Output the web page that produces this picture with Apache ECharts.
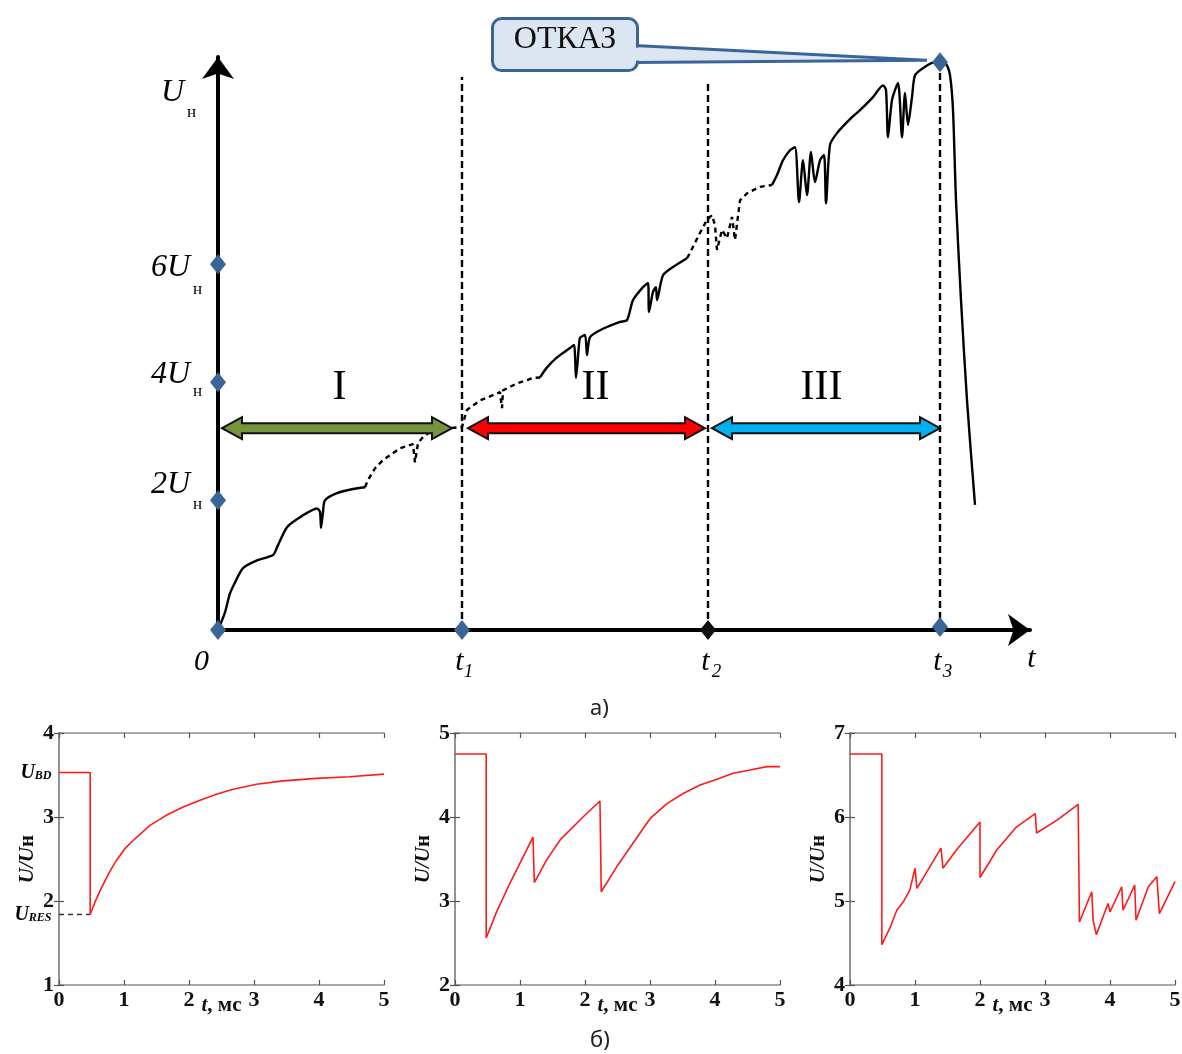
<!DOCTYPE html>
<html>
<head>
<meta charset="utf-8">
<script src="https://cdn.jsdelivr.net/npm/echarts@6/dist/echarts.min.js"></script>
<style>
  html, body { margin: 0; padding: 0; background: #fff; }
  #main { width: 1182px; height: 1054px; }
</style>
</head>
<body>
<div id="main"></div>
<script>
// ---- а) schematic: t in sketch units (t1 = 2.44, t2 = 4.90, t3 = 7.22), voltage in Uн
var stage1Solid = [[0,-0.2],[0.07,0.10],[0.12,0.42],[0.18,0.64],[0.25,0.85],[0.39,0.98],[0.55,1.07],[0.59,1.20],[0.69,1.54],[0.82,1.71],[0.99,1.86],[1.02,1.80],[1.03,1.53],[1.05,1.80],[1.07,2.00],[1.19,2.12],[1.35,2.19],[1.47,2.22]];
var stage1Dashed = [[1.47,2.22],[1.50,2.34],[1.57,2.54],[1.65,2.68],[1.82,2.88],[1.95,2.95],[1.97,2.64],[2.00,2.97],[2.05,3.07],[2.15,3.19],[2.32,3.22],[2.44,3.24],[2.46,3.36],[2.49,3.53],[2.62,3.69],[2.82,3.83],[2.84,3.56],[2.85,3.86],[2.99,3.98],[3.15,4.07],[3.22,4.08]];
var stage2Solid = [[3.22,4.08],[3.29,4.25],[3.39,4.42],[3.52,4.58],[3.56,4.63],[3.58,4.07],[3.61,4.63],[3.62,4.75],[3.67,4.80],[3.69,4.46],[3.72,4.76],[3.82,4.88],[4.02,5.02],[4.09,5.05],[4.15,5.39],[4.25,5.61],[4.30,5.68],[4.31,5.19],[4.35,5.53],[4.38,5.61],[4.39,5.39],[4.45,5.81],[4.55,5.95],[4.69,6.10]];
var stage2Dashed = [[4.69,6.10],[4.72,6.19],[4.82,6.53],[4.89,6.75],[4.94,6.83],[4.97,6.66],[4.99,6.24],[5.04,6.58],[5.09,6.44],[5.14,6.80],[5.17,6.41],[5.22,7.08],[5.29,7.20],[5.42,7.31],[5.54,7.34]];
var stage3Solid = [[5.54,7.34],[5.59,7.51],[5.65,7.76],[5.72,7.93],[5.77,7.98],[5.81,7.05],[5.85,7.76],[5.89,7.17],[5.93,7.90],[5.97,7.39],[6.02,7.76],[6.06,7.85],[6.08,7.03],[6.12,8.02],[6.19,8.22],[6.34,8.49],[6.42,8.61],[6.55,8.83],[6.65,9.03],[6.68,8.95],[6.70,8.15],[6.74,8.78],[6.80,9.07],[6.84,8.15],[6.87,8.90],[6.90,8.36],[6.94,8.83],[6.97,9.20],[7.05,9.32],[7.14,9.41],[7.22,9.42],[7.28,9.39],[7.32,9.20],[7.35,8.61],[7.38,7.08],[7.43,5.39],[7.49,3.69],[7.57,1.92]];

var tMarks = [2.44, 4.90, 7.22];          // t1, t2, t3
var tMarkTops = [9.17, 9.07, 9.42];       // where the dashed verticals start
var tMarkSubs = ['1', '2', '3'];
var uMarks = [2, 4, 6];
var uMarkText = ['2U', '4U', '6U'];
var failPoint = [7.22, 9.42];
var failBox = [3.47, 9.72];
var stageArrows = [[0.04, 2.34, 3.22], [2.50, 4.87, 3.22], [4.94, 7.22, 3.22]];
var stageColors = ['#77933C', '#FF0000', '#00B0F0'];
var stageNames = ['I', 'II', 'III'];
var stageNameX = [1.22, 3.78, 6.04];
var stageNameU = 3.90;

// ---- б) measured U/Uн vs t, ms
var meas1 = [[0,3.53],[0.48,3.53],[0.48,1.84],[0.55,1.98],[0.63,2.12],[0.78,2.35],[0.88,2.48],[1.01,2.62],[1.14,2.72],[1.40,2.90],[1.65,3.02],[1.91,3.12],[2.17,3.20],[2.42,3.27],[2.68,3.33],[3.04,3.39],[3.45,3.43],[3.96,3.46],[4.47,3.48],[5.0,3.51]];
var meas2 = [[0,4.75],[0.48,4.75],[0.48,2.56],[0.64,2.87],[0.85,3.22],[1.00,3.45],[1.20,3.76],[1.22,3.22],[1.41,3.49],[1.62,3.73],[1.97,4.00],[2.23,4.19],[2.25,3.11],[2.49,3.41],[2.74,3.69],[3.00,3.98],[3.26,4.16],[3.51,4.28],[3.77,4.38],[4.03,4.45],[4.28,4.52],[4.54,4.56],[4.80,4.60],[5.0,4.60]];
var meas3 = [[0,6.75],[0.49,6.75],[0.49,4.48],[0.62,4.69],[0.72,4.89],[0.82,4.99],[0.92,5.13],[1.00,5.39],[1.03,5.15],[1.23,5.41],[1.40,5.63],[1.43,5.39],[1.64,5.61],[2.00,5.94],[2.00,5.28],[2.26,5.61],[2.56,5.88],[2.85,6.04],[2.87,5.81],[3.18,5.96],[3.51,6.15],[3.53,4.75],[3.72,5.11],[3.74,4.77],[3.79,4.60],[3.97,4.97],[4.00,4.87],[4.18,5.17],[4.20,4.89],[4.38,5.19],[4.40,4.77],[4.59,5.17],[4.72,5.29],[4.76,4.85],[5.0,5.23]];
var uBD = 3.53;
var uRES = 1.84;
var tBreak = 0.48;
var yRanges = [[1, 4], [2, 5], [4, 7]];

var serif = '"Liberation Serif", "DejaVu Serif", serif';
var chart = echarts.init(document.getElementById('main'));

// text placed at a data point, shifted by a few pixels
function textAt(x, y, text, dx, dy, style) {
    var lab = {
        show: true, formatter: text, position: [dx, dy],
        align: 'center', verticalAlign: 'middle',
        fontFamily: serif, color: '#000', opacity: 1
    };
    for (var k in style) lab[k] = style[k];
    return {value: [x, y], label: lab};
}
var bigItalic = {fontSize: 32, fontStyle: 'italic'};
var subUp = {fontSize: 17};
var subItalic = {fontSize: 19, fontStyle: 'italic'};

var topTexts = [];
var uMainDy = [-15, -7, 4], uSubDy = [5, 10, 26];
uMarks.forEach(function (u, i) {
    topTexts.push(textAt(0, u, uMarkText[i], -47, uMainDy[i], bigItalic));
    topTexts.push(textAt(0, u, 'н', -20, uSubDy[i], subUp));
});
topTexts.push(textAt(0, 8.90, 'U', -45, 0, bigItalic));
topTexts.push(textAt(0, 8.90, 'н', -26, 20, subUp));
topTexts.push(textAt(0, -0.2, '0', -16, 33, {fontSize: 30, fontStyle: 'italic'}));
var subDx = [7, 9, 8];
tMarks.forEach(function (t, i) {
    topTexts.push(textAt(t, -0.2, 't', -2, 33, {fontSize: 30, fontStyle: 'italic'}));
    topTexts.push(textAt(t, -0.2, tMarkSubs[i], subDx[i], 42, subItalic));
});
topTexts.push(textAt(8.12, -0.2, 't', 2, 30, {fontSize: 30, fontStyle: 'italic'}));
stageNames.forEach(function (s, i) {
    topTexts.push(textAt(stageNameX[i], stageNameU, s, 0, 0, {fontSize: 42}));
});

function lineSeries(data, dashed, width) {
    return {
        type: 'line', xAxisIndex: 0, yAxisIndex: 0, data: data,
        symbol: 'none', clip: false, silent: true, z: 3, smooth: dashed ? 0 : 0.25,
        lineStyle: {color: '#000', width: width || 2.4, type: dashed ? [5, 4] : 'solid'}
    };
}

var series = [
    lineSeries(stage1Solid, false),
    lineSeries(stage1Dashed, true),
    lineSeries(stage2Solid, false),
    lineSeries(stage2Dashed, true),
    lineSeries(stage3Solid, false)
];
tMarks.forEach(function (t, i) {
    var s = lineSeries([[t, -0.2], [t, tMarkTops[i]]], true, 2.4);
    s.lineStyle.type = [7, 4];
    s.z = 2;
    series.push(s);
});
series.push({
    type: 'custom', xAxisIndex: 0, yAxisIndex: 0, data: stageArrows, z: 4, silent: true,
    encode: {x: [0, 1], y: 2},
    renderItem: function (params, api) {
        var a = api.coord([api.value(0), api.value(2)]);
        var b = api.coord([api.value(1), api.value(2)]);
        var y = a[1], L = 20, H = 11, h = 5;
        var pts = [[a[0], y], [a[0] + L, y - H], [a[0] + L, y - h], [b[0] - L, y - h], [b[0] - L, y - H],
                   [b[0], y], [b[0] - L, y + H], [b[0] - L, y + h], [a[0] + L, y + h], [a[0] + L, y + H]];
        return {type: 'polygon', shape: {points: pts},
                style: {fill: stageColors[params.dataIndex], stroke: '#111', lineWidth: 2}};
    }
});
series.push({
    type: 'custom', xAxisIndex: 0, yAxisIndex: 0, data: [[failPoint[0], failPoint[1], failBox[0], failBox[1]]],
    z: 5, silent: true, clip: false, encode: {x: 0, y: 1},
    renderItem: function (params, api) {
        var tip = api.coord([api.value(0), api.value(1)]);
        var c = api.coord([api.value(2), api.value(3)]);
        var w = 145, h = 52, bx = c[0] - w / 2, by = c[1] - h / 2;
        var fill = '#DCE6F2', edge = '#3A6598';
        return {type: 'group', children: [
            {type: 'polygon', shape: {points: [[bx + w - 3, c[1] + 1], [tip[0] - 13, tip[1] - 2], [bx + w - 3, c[1] + 18]]},
             style: {fill: fill, stroke: edge, lineWidth: 3}},
            {type: 'rect', shape: {x: bx, y: by, width: w, height: h, r: 9},
             style: {fill: fill, stroke: edge, lineWidth: 3}},
            {type: 'rect', shape: {x: bx + w - 4, y: c[1] + 3, width: 7, height: 13}, style: {fill: fill}},
            {type: 'text', style: {text: 'ОТКАЗ', x: c[0], y: c[1] - 5, align: 'center', verticalAlign: 'middle',
             font: '32px ' + serif, fill: '#111'}}
        ]};
    }
});
var blueMarks = [[0, -0.2], [0, 2], [0, 4], [0, 6], [tMarks[0], -0.2], [tMarks[2], -0.15], failPoint];
series.push({
    type: 'scatter', xAxisIndex: 0, yAxisIndex: 0, data: blueMarks, symbol: 'diamond',
    symbolSize: [16, 20], itemStyle: {color: '#3A6596', opacity: 1}, z: 6, silent: true, clip: false
});
series.push({
    type: 'scatter', xAxisIndex: 0, yAxisIndex: 0, data: [[tMarks[1], -0.2]], symbol: 'diamond',
    symbolSize: [16, 20], itemStyle: {color: '#111', opacity: 1}, z: 6, silent: true
});
series.push({
    type: 'scatter', xAxisIndex: 0, yAxisIndex: 0, data: topTexts, symbolSize: 1,
    itemStyle: {color: 'rgba(0,0,0,0)', opacity: 1}, z: 7, silent: true, clip: false
});

// bottom panels
[meas1, meas2, meas3].forEach(function (d, i) {
    series.push({
        type: 'line', xAxisIndex: i + 1, yAxisIndex: i + 1, data: d, symbol: 'none', silent: true,
        lineStyle: {color: '#FF1A1A', width: 1.6}, z: 3
    });
});
series.push({
    type: 'line', xAxisIndex: 1, yAxisIndex: 1, data: [[0, uRES], [tBreak, uRES]], symbol: 'none', silent: true,
    lineStyle: {color: '#333', width: 1.6, type: [5, 4]}, z: 2
});
series.push({
    type: 'scatter', xAxisIndex: 1, yAxisIndex: 1, symbolSize: 1, itemStyle: {color: 'rgba(0,0,0,0)', opacity: 1},
    silent: true, clip: false,
    data: [
        {value: [0, uBD], label: {formatter: '{u|U}{s|BD}'}},
        {value: [0, uRES], label: {formatter: '{u|U}{s|RES}'}}
    ],
    label: {
        show: true, position: 'left', distance: 7, color: '#000', opacity: 1,
        rich: {
            u: {fontFamily: serif, fontSize: 20, fontWeight: 'bold', fontStyle: 'italic'},
            s: {fontFamily: serif, fontSize: 12, fontWeight: 'bold', fontStyle: 'italic', padding: [7, 0, 0, 0]}
        }
    }
});

var grids = [{left: 218, top: 57, width: 812, height: 573, outerBoundsMode: 'none'}];
var panelLeft = [59, 455, 850];
panelLeft.forEach(function (l) {
    grids.push({left: l, top: 733, width: 325, height: 252, outerBoundsMode: 'none'});
});

var frameLine = {color: '#8c8c8c', width: 1.5};
var tickIn = {inside: true, length: 5, lineStyle: {color: '#555', width: 1.2}};

var xAxes = [{
    type: 'value', gridIndex: 0, min: 0, max: 8.12,
    axisLine: {onZero: false, symbol: ['none', 'arrow'], symbolSize: [24, 22], lineStyle: {color: '#000', width: 4}},
    axisTick: {show: false}, axisLabel: {show: false}, splitLine: {show: false}
}];
var yAxes = [{
    type: 'value', gridIndex: 0, min: -0.2, max: 9.51,
    axisLine: {onZero: false, symbol: ['none', 'arrow'], symbolSize: [24, 22], lineStyle: {color: '#000', width: 4}},
    axisTick: {show: false}, axisLabel: {show: false}, splitLine: {show: false}
}];
[1, 2, 3].forEach(function (g) {
    xAxes.push({
        type: 'value', gridIndex: g, min: 0, max: 5, interval: 1,
        axisLine: {lineStyle: frameLine}, axisTick: tickIn, splitLine: {show: false},
        axisLabel: {fontFamily: serif, fontSize: 22, fontWeight: 'bold', color: '#111', margin: 4},
        name: '{a|t}{b|, мс}', nameLocation: 'middle', nameGap: 10, nameMoveOverlap: false,
        nameTextStyle: {rich: {
            a: {fontFamily: serif, fontSize: 21, fontWeight: 'bold', fontStyle: 'italic', color: '#111'},
            b: {fontFamily: serif, fontSize: 21, fontWeight: 'bold', color: '#111'}
        }}
    });
    yAxes.push({
        type: 'value', gridIndex: g, min: yRanges[g - 1][0], max: yRanges[g - 1][1], interval: 1,
        axisLine: {lineStyle: frameLine}, axisTick: tickIn, splitLine: {show: false},
        axisLabel: {fontFamily: serif, fontSize: 22, fontWeight: 'bold', color: '#111', margin: 5},
        name: '{a|U/U}{b|н}', nameLocation: 'middle', nameGap: 21, nameMoveOverlap: false,
        nameTextStyle: {rich: {
            a: {fontFamily: serif, fontSize: 21, fontWeight: 'bold', fontStyle: 'italic', color: '#111'},
            b: {fontFamily: serif, fontSize: 21, fontWeight: 'bold', color: '#111'}
        }}
    });
});
[1, 2, 3].forEach(function (g) {
    xAxes.push({type: 'value', gridIndex: g, position: 'top', min: 0, max: 5, interval: 1,
        axisLine: {lineStyle: frameLine}, axisTick: tickIn, axisLabel: {show: false}, splitLine: {show: false}});
    yAxes.push({type: 'value', gridIndex: g, position: 'right', min: yRanges[g - 1][0], max: yRanges[g - 1][1], interval: 1,
        axisLine: {lineStyle: frameLine}, axisTick: tickIn, axisLabel: {show: false}, splitLine: {show: false}});
});

chart.setOption({
    animation: false,
    backgroundColor: '#fff',
    title: [
        {text: 'а)', left: 585, top: 693, textStyle: {fontFamily: '"Noto Sans", sans-serif', fontSize: 22, fontWeight: 'normal', color: '#222'}},
        {text: 'б)', left: 585, top: 1025, textStyle: {fontFamily: '"Noto Sans", sans-serif', fontSize: 22, fontWeight: 'normal', color: '#222'}}
    ],
    grid: grids,
    xAxis: xAxes,
    yAxis: yAxes,
    series: series
});
</script>
</body>
</html>
